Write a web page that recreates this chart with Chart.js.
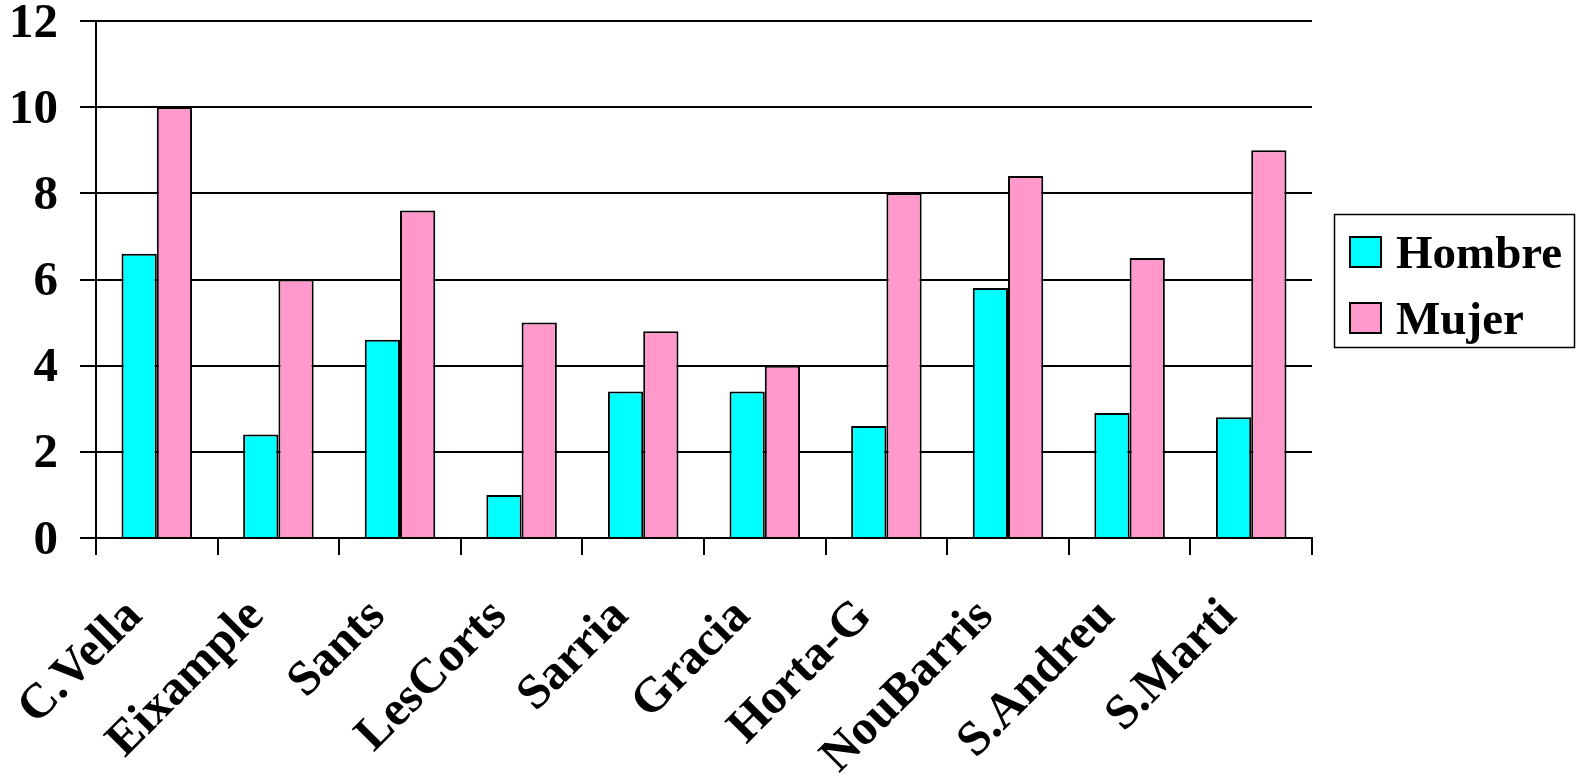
<!DOCTYPE html>
<html>
<head>
<meta charset="utf-8">
<script src="https://cdn.jsdelivr.net/npm/chart.js@4/dist/chart.umd.min.js"></script>
<style>
  html, body { margin: 0; padding: 0; background: #ffffff; }
  #wrap { width: 1577px; height: 775px; }
</style>
</head>
<body>
<div id="wrap"><canvas id="chart" width="1577" height="775"></canvas></div>
<script>
// Districts of Barcelona
const districts = ['C.Vella', 'Eixample', 'Sants', 'LesCorts', 'Sarria', 'Gracia', 'Horta-G', 'NouBarris', 'S.Andreu', 'S.Marti'];
const hombre = [6.6, 2.4, 4.6, 1.0, 3.4, 3.4, 2.6, 5.8, 2.9, 2.8];
const mujer  = [10.0, 6.0, 7.6, 5.0, 4.8, 4.0, 8.0, 8.4, 6.5, 9.0];
const seriesNames = ['Hombre', 'Mujer'];
const seriesColors = ['#00FFFF', '#FF99CC'];
const yMin = 0, yMax = 12, yStep = 2;

const FONT = '"Liberation Serif", "Times New Roman", serif';

// Boxed legend on the right side of the plot
const boxedLegend = {
  id: 'boxedLegend',
  afterDraw(chart) {
    const ctx = chart.ctx;
    const box = { x: 1334, y: 214, w: 240, h: 133 };
    ctx.save();
    ctx.strokeStyle = '#000';
    ctx.lineWidth = 1.5;
    ctx.strokeRect(box.x + 0.5, box.y + 0.5, box.w, box.h);
    ctx.font = 'bold 47px ' + FONT;
    ctx.textBaseline = 'alphabetic';
    ctx.textAlign = 'left';
    chart.data.datasets.forEach((ds, i) => {
      const sy = 237 + i * 66;
      ctx.fillStyle = ds.backgroundColor;
      ctx.fillRect(1350, sy, 31, 30);
      ctx.lineWidth = 2;
      ctx.strokeRect(1350, sy, 31, 30);
      ctx.fillStyle = '#000';
      ctx.fillText(ds.label, 1396, sy + 31);
    });
    ctx.restore();
  }
};

new Chart(document.getElementById('chart'), {
  type: 'bar',
  data: {
    labels: districts,
    datasets: [
      { label: seriesNames[0], data: hombre, backgroundColor: seriesColors[0], borderColor: '#000', borderWidth: 2 },
      { label: seriesNames[1], data: mujer,  backgroundColor: seriesColors[1], borderColor: '#000', borderWidth: 2 }
    ]
  },
  options: {
    responsive: false,
    animation: false,
    devicePixelRatio: 1,
    layout: { padding: { top: 21, right: 265, left: 0, bottom: 0 } },
    datasets: { bar: { categoryPercentage: 0.58, barPercentage: 1.0 } },
    plugins: {
      legend: { display: false },
      tooltip: { enabled: false }
    },
    scales: {
      x: {
        grid: {
          offset: true,
          drawOnChartArea: false,
          drawTicks: true,
          tickLength: 17,
          color: '#000',
          lineWidth: 2
        },
        border: { display: true, color: '#000', width: 2 },
        ticks: {
          color: '#000',
          font: { family: FONT, size: 49, weight: 'bold' },
          minRotation: 45,
          maxRotation: 45,
          autoSkip: false,
          padding: 33,
          labelOffset: -22
        },
        afterFit(scale) {
          scale.height = 775 - 538;
          scale.paddingLeft = 0;
          scale.paddingRight = 0;
        }
      },
      y: {
        min: yMin,
        max: yMax,
        ticks: {
          stepSize: yStep,
          color: '#000',
          font: { family: FONT, size: 49, weight: 'bold' },
          padding: 22,
          labelOffset: 3
        },
        grid: {
          color: '#000',
          lineWidth: 2,
          drawTicks: true,
          tickLength: 16
        },
        border: { display: true, color: '#000', width: 2 },
        afterFit(scale) {
          scale.width = 96;
          scale.paddingTop = 0;
          scale.paddingBottom = 0;
        }
      }
    }
  },
  plugins: [boxedLegend]
});
</script>
</body>
</html>
